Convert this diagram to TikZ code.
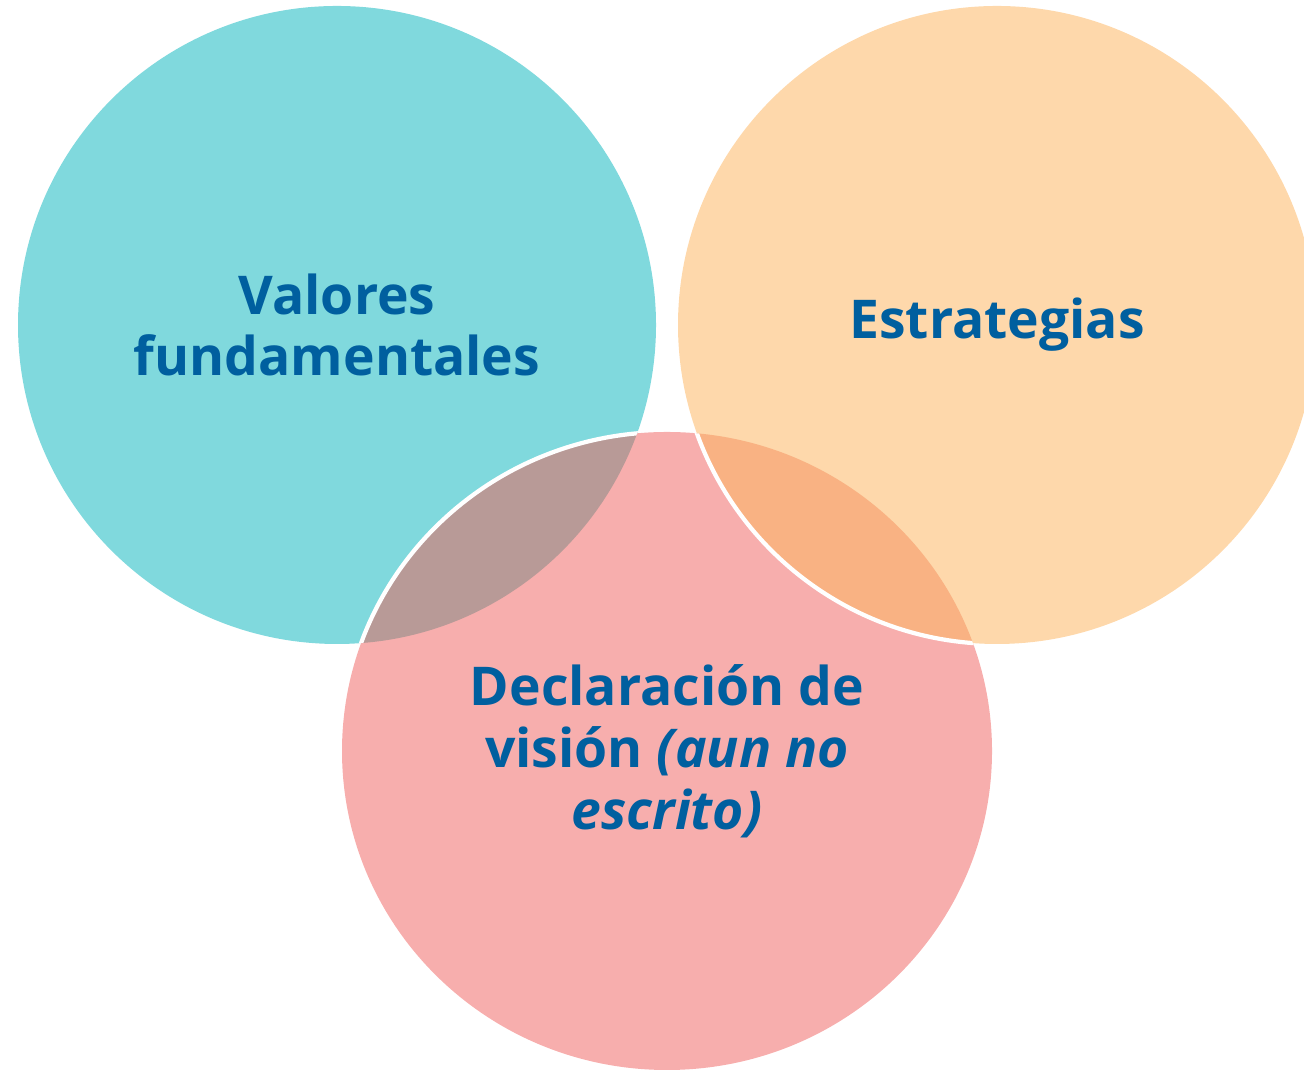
\documentclass[tikz,border=0pt]{standalone}
\usepackage{fontspec}
\setmainfont{Open Sans}
\usepackage{tikz}

\definecolor{valores}{HTML}{80D9DD}
\definecolor{estrat}{HTML}{FED8AB}
\definecolor{vision}{HTML}{F7AEAD}
\definecolor{lensleft}{HTML}{B89A97}
\definecolor{lensright}{HTML}{F9B283}
\definecolor{label}{HTML}{005F9F}

\begin{document}
\begin{tikzpicture}[x=0.01cm, y=0.01cm,
  vlabel/.style={text=label, font=\fontsize{15.2}{17.6}\selectfont\bfseries, align=center},
  rim/.style={draw=white, line width=1.2pt}]

\useasboundingbox (0,0) rectangle (1304,1071);
\clip (0,0) rectangle (1304,1071);

\coordinate (cval) at (337,746);
\coordinate (cest) at (997,746);
\coordinate (cvis) at (667,320);

% the three circles
\fill[valores] (cval) circle[radius=319];
\fill[vision] (cvis) ellipse[x radius=325, y radius=319];
\fill[estrat] (cest) circle[radius=319];

% overlaps
\begin{scope}
 \clip (cval) circle[radius=319];
 \fill[lensleft] (cvis) ellipse[x radius=325, y radius=319];
 \draw[rim] (cvis) ellipse[x radius=325, y radius=319];
\end{scope}

\begin{scope}
 \clip (cvis) ellipse[x radius=325, y radius=319];
 \fill[lensright] (cest) circle[radius=319];
 \draw[rim] (cest) circle[radius=319];
\end{scope}

\node[vlabel] (valtext) at (cval) {Valores\\fundamentales};
\node[vlabel] (esttext) at (cest) {Estrategias};
\node[vlabel] (vistext) at (cvis) {Declaración de\\visión \textit{(aun no}\\\textit{escrito)}};

\end{tikzpicture}
\end{document}
